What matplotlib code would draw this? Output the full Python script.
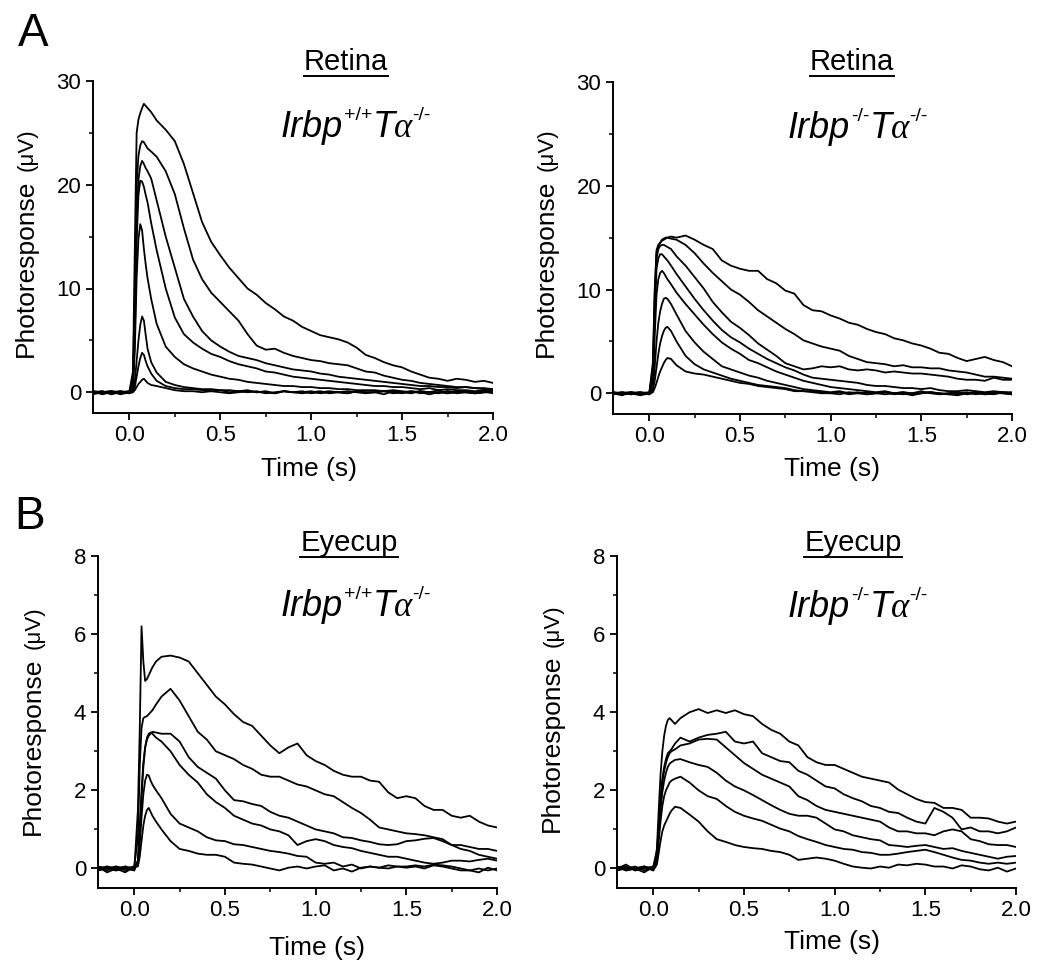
import matplotlib
matplotlib.use("Agg")
import matplotlib.pyplot as plt
from matplotlib.ticker import MultipleLocator, FormatStrFormatter
from matplotlib.lines import Line2D

plt.rcParams["font.family"] = ["Liberation Sans", "DejaVu Sans"]

W, H = 1050, 977

# sample times (s): baseline, rising phase, then every 50 ms
time_s = [-0.2, -0.15, -0.1, -0.05, 0.0, 0.02, 0.03, 0.04, 0.05, 0.06, 0.07, 0.08, 0.09, 0.1, 0.12, 0.15,
          0.2, 0.25, 0.3, 0.35, 0.4, 0.45, 0.5, 0.55, 0.6, 0.65,
          0.7, 0.75, 0.8, 0.85, 0.9, 0.95, 1.0, 1.05, 1.1, 1.15,
          1.2, 1.25, 1.3, 1.35, 1.4, 1.45, 1.5, 1.55, 1.6, 1.65,
          1.7, 1.75, 1.8, 1.85, 1.9, 1.95, 2.0]

# A left: retina, Irbp+/+ Ta-/- (uV)
retina_wt = [
    [0.1, -0.2, 0.0, -0.1, 0.1, 2.0, 14.0, 25.0, 26.3, 26.9, 27.4, 27.8, 27.6, 27.4, 27.0, 26.2,
     25.3, 24.2, 22.0, 19.2, 16.4, 14.5, 13.2, 12.0, 11.0, 10.0,
     9.4, 8.6, 8.0, 7.3, 6.9, 6.3, 5.9, 5.5, 5.3, 5.1,
     4.8, 4.3, 3.6, 3.3, 2.9, 2.6, 2.4, 2.0, 1.7, 1.4,
     1.3, 1.1, 1.3, 1.2, 1.0, 1.1, 0.9],
    [-0.1, 0.1, -0.2, 0.0, 0.0, 1.5, 10.0, 20.0, 22.8, 23.8, 24.2, 24.1, 23.8, 23.5, 23.2, 22.7,
     21.3, 19.1, 15.8, 12.8, 10.9, 9.6, 8.7, 7.8, 6.9, 5.6,
     4.5, 4.1, 4.2, 3.8, 3.5, 3.3, 3.1, 3.0, 2.8, 2.7,
     2.6, 2.3, 2.0, 1.9, 1.6, 1.4, 1.2, 1.1, 0.9, 0.8,
     0.7, 0.6, 0.5, 0.5, 0.4, 0.4, 0.3],
    [0.0, -0.1, 0.1, -0.2, 0.0, 1.0, 7.0, 16.5, 20.5, 21.8, 22.3, 22.0, 21.6, 21.3, 20.6, 18.5,
     15.0, 12.0, 9.0, 7.3, 5.9, 5.0, 4.4, 3.9, 3.5, 3.3,
     3.1, 2.8, 2.6, 2.4, 2.2, 2.1, 2.0, 1.8, 1.7, 1.5,
     1.4, 1.3, 1.2, 1.1, 1.0, 0.9, 0.8, 0.7, 0.6, 0.6,
     0.5, 0.5, 0.4, 0.5, 0.4, 0.3, 0.3],
    [-0.1, 0.0, 0.1, 0.0, -0.1, 0.8, 5.5, 14.5, 19.0, 20.4, 20.3, 19.8, 19.0, 18.3, 16.3, 13.7,
     10.0, 7.2, 5.6, 4.8, 4.2, 3.7, 3.4, 3.0, 2.7, 2.5,
     2.3, 2.0, 1.9, 1.7, 1.5, 1.4, 1.3, 1.2, 1.1, 1.0,
     0.9, 0.8, 0.7, 0.6, 0.6, 0.5, 0.5, 0.4, 0.3, 0.4,
     0.2, 0.3, 0.2, 0.2, 0.1, 0.2, 0.1],
    [0.1, -0.1, 0.0, 0.1, 0.0, 0.5, 4.0, 11.0, 14.8, 16.2, 15.6, 13.8, 12.3, 11.0, 9.0, 6.6,
     4.4, 3.4, 2.7, 2.3, 2.0, 1.7, 1.5, 1.3, 1.2, 1.0,
     0.9, 0.8, 0.7, 0.6, 0.6, 0.5, 0.5, 0.4, 0.4, 0.3,
     0.3, 0.2, 0.2, 0.2, 0.1, 0.2, 0.1, 0.0, 0.1, 0.0,
     -0.1, 0.1, 0.0, 0.0, -0.1, 0.0, 0.0],
    [0.0, 0.1, -0.1, 0.0, 0.1, 0.2, 1.0, 3.0, 5.0, 6.5, 7.3, 6.9, 5.5, 4.2, 2.9, 1.9,
     1.0, 0.7, 0.5, 0.4, 0.3, 0.3, 0.2, 0.2, 0.1, 0.2,
     0.0, 0.1, -0.1, 0.1, 0.0, 0.1, -0.1, 0.0, 0.1, 0.0,
     -0.1, 0.1, 0.0, 0.0, -0.2, 0.1, 0.0, -0.1, 0.1, 0.0,
     0.2, -0.1, 0.0, 0.1, -0.1, 0.0, 0.1],
    [-0.2, 0.0, 0.1, -0.1, 0.0, 0.1, 0.5, 1.5, 2.5, 3.3, 3.8, 3.6, 3.0, 2.5, 1.8, 1.1,
     0.6, 0.4, 0.3, 0.3, 0.2, 0.1, 0.2, 0.0, 0.1, 0.0,
     0.1, -0.1, 0.0, 0.1, 0.0, -0.1, 0.0, 0.1, -0.1, 0.0,
     0.1, 0.0, -0.1, 0.0, 0.1, 0.0, -0.1, 0.1, 0.0, -0.2,
     0.0, 0.1, -0.1, 0.0, 0.0, 0.1, -0.1],
    [0.1, 0.0, -0.1, 0.1, -0.1, 0.0, 0.2, 0.5, 0.8, 1.0, 1.2, 1.3, 1.1, 0.9, 0.7, 0.6,
     0.4, 0.2, 0.1, 0.1, 0.0, 0.1, 0.0, -0.1, 0.0, 0.1,
     0.0, 0.0, -0.1, 0.1, 0.0, 0.0, 0.1, -0.1, 0.0, 0.0,
     -0.1, 0.1, 0.0, 0.0, 0.1, -0.1, 0.0, 0.1, -0.1, 0.0,
     0.0, -0.1, 0.1, 0.0, -0.1, 0.0, 0.0],
]

# A right: retina, Irbp-/- Ta-/- (uV)
retina_ko = [
    [0.0, -0.2, 0.1, -0.1, 0.0, 3.0, 10.0, 13.8, 14.3, 14.5, 14.7, 14.8, 14.9, 15.0, 15.1, 15.0,
     15.2, 14.8, 14.3, 13.9, 12.8, 12.3, 12.0, 11.8, 11.8, 11.0,
     10.6, 9.9, 9.6, 8.5, 8.0, 7.9, 7.5, 7.2, 6.8, 6.6,
     6.2, 5.9, 5.7, 5.3, 5.1, 4.8, 4.6, 4.3, 3.9, 3.8,
     3.4, 3.1, 3.3, 3.5, 3.2, 3.0, 2.6],
    [0.1, 0.0, -0.1, 0.0, -0.1, 2.5, 9.5, 13.5, 14.2, 14.5, 14.8, 14.9, 15.0, 15.0, 14.9, 14.8,
     14.3, 13.5, 12.5, 11.6, 10.8, 10.0, 9.5, 8.8, 8.0, 7.4,
     6.8, 6.2, 5.7, 5.1, 4.8, 4.5, 4.3, 4.1, 3.6, 3.3,
     3.0, 2.9, 2.8, 2.6, 2.7, 2.5, 2.5, 2.4, 2.4, 2.2,
     2.1, 2.0, 1.8, 1.6, 1.6, 1.5, 1.4],
    [-0.1, 0.1, 0.0, -0.2, 0.0, 2.0, 8.5, 13.0, 13.9, 14.2, 14.3, 14.3, 14.2, 14.1, 13.9, 13.2,
     12.3, 11.2, 10.1, 8.8, 7.8, 6.9, 6.3, 5.6, 4.8, 4.2,
     3.6, 2.9, 2.6, 2.3, 2.4, 2.6, 2.5, 2.6, 2.3, 2.2,
     2.3, 2.2, 2.0, 2.1, 2.0, 1.9, 1.9, 1.8, 1.7, 1.6,
     1.4, 1.3, 1.3, 1.2, 1.5, 1.3, 1.3],
    [0.0, 0.0, 0.1, 0.0, -0.1, 1.8, 7.5, 12.0, 13.0, 13.4, 13.4, 13.2, 13.0, 12.8, 12.3, 11.5,
     10.3, 9.1, 8.0, 7.0, 6.1, 5.4, 4.9, 4.3, 3.8, 3.3,
     2.9, 2.5, 2.2, 1.8, 1.5, 1.4, 1.3, 1.2, 1.1, 1.0,
     0.8, 0.7, 0.7, 0.6, 0.5, 0.5, 0.4, 0.5, 0.3, 0.2,
     0.2, 0.3, 0.2, 0.1, 0.2, 0.1, 0.1],
    [0.1, -0.1, 0.0, 0.1, 0.0, 1.2, 5.5, 9.5, 11.0, 11.6, 11.8, 11.6, 11.3, 11.0, 10.5, 9.7,
     8.6, 7.6, 6.6, 5.7, 4.9, 4.3, 3.8, 3.2, 2.9, 2.5,
     2.1, 1.8, 1.5, 1.2, 1.0, 0.8, 0.6, 0.5, 0.4, 0.3,
     0.2, 0.1, 0.2, 0.0, 0.1, -0.1, 0.0, 0.1, 0.0, -0.1,
     0.0, 0.1, -0.1, 0.0, 0.1, 0.0, -0.1],
    [0.0, 0.1, -0.1, 0.0, 0.1, 0.5, 2.5, 5.0, 6.8, 7.9, 8.6, 9.1, 9.2, 9.1, 8.6, 7.6,
     6.0, 4.9, 4.0, 3.3, 2.6, 2.3, 2.0, 1.7, 1.5, 1.2,
     1.0, 0.8, 0.6, 0.4, 0.3, 0.2, 0.1, 0.2, 0.0, 0.1,
     -0.1, 0.0, 0.1, -0.1, 0.0, -0.2, 0.0, 0.1, 0.0, -0.1,
     -0.2, 0.0, 0.1, -0.1, 0.0, 0.1, -0.1],
    [-0.1, 0.0, 0.1, -0.1, 0.0, 0.3, 1.2, 2.5, 3.8, 4.8, 5.5, 6.0, 6.3, 6.4, 6.0, 5.0,
     3.6, 2.8, 2.3, 2.0, 1.7, 1.4, 1.2, 1.0, 0.8, 0.7,
     0.6, 0.5, 0.3, 0.2, 0.2, 0.1, 0.0, 0.1, -0.1, 0.0,
     0.1, 0.0, -0.1, 0.0, 0.1, 0.0, 0.2, 0.0, -0.1, 0.0,
     0.1, -0.1, 0.0, 0.0, -0.1, 0.1, 0.0],
    [0.1, -0.1, 0.0, 0.1, -0.1, 0.1, 0.5, 1.0, 1.6, 2.1, 2.5, 2.9, 3.2, 3.4, 3.3, 2.7,
     2.1, 1.9, 1.8, 1.6, 1.4, 1.2, 1.0, 0.9, 0.7, 0.6,
     0.5, 0.4, 0.2, 0.2, 0.1, 0.0, 0.0, -0.1, 0.1, 0.0,
     -0.1, 0.0, 0.1, 0.0, -0.1, 0.0, 0.0, 0.1, -0.1, 0.0,
     -0.1, 0.0, 0.1, -0.1, 0.0, 0.0, -0.1],
]

# B left: eyecup, Irbp+/+ Ta-/- (uV)
eyecup_wt = [
    [0.05, -0.1, 0.0, 0.05, -0.05, 1.5, 3.5, 6.2, 5.3, 4.8, 4.85, 4.95, 5.05, 5.15, 5.3, 5.42,
     5.45, 5.4, 5.3, 5.0, 4.7, 4.4, 4.2, 3.95, 3.75, 3.65,
     3.4, 3.15, 2.95, 3.1, 3.2, 2.9, 2.75, 2.65, 2.5, 2.4,
     2.35, 2.35, 2.25, 2.22, 1.95, 1.8, 1.85, 1.8, 1.6, 1.5,
     1.5, 1.35, 1.3, 1.35, 1.2, 1.1, 1.05],
    [0.0, 0.05, -0.05, 0.0, 0.05, 0.8, 2.6, 3.6, 3.85, 3.88, 3.9, 3.95, 4.0, 4.05, 4.2, 4.4,
     4.6, 4.3, 3.9, 3.5, 3.3, 3.0, 2.9, 2.8, 2.65, 2.55,
     2.4, 2.35, 2.35, 2.25, 2.15, 2.1, 2.0, 1.9, 1.85, 1.7,
     1.55, 1.42, 1.25, 1.05, 1.0, 0.95, 0.9, 0.88, 0.85, 0.8,
     0.75, 0.6, 0.6, 0.55, 0.5, 0.5, 0.45],
    [-0.05, 0.0, 0.05, -0.05, 0.0, 0.2, 1.0, 2.0, 2.7, 3.1, 3.3, 3.4, 3.45, 3.5, 3.48, 3.45,
     3.45, 3.25, 2.85, 2.6, 2.45, 2.3, 2.0, 1.75, 1.72, 1.65,
     1.6, 1.45, 1.35, 1.3, 1.2, 1.1, 1.0, 0.95, 0.9, 0.8,
     0.78, 0.72, 0.68, 0.62, 0.6, 0.62, 0.7, 0.72, 0.76, 0.78,
     0.7, 0.6, 0.5, 0.45, 0.35, 0.3, 0.25],
    [0.0, -0.05, 0.05, 0.0, -0.05, 0.2, 0.9, 1.8, 2.6, 3.1, 3.35, 3.45, 3.48, 3.45, 3.35, 3.25,
     3.0, 2.65, 2.4, 2.2, 1.9, 1.7, 1.55, 1.35, 1.25, 1.15,
     1.1, 1.0, 0.95, 0.85, 0.6, 0.7, 0.75, 0.7, 0.6, 0.55,
     0.52, 0.45, 0.4, 0.35, 0.3, 0.3, 0.25, 0.2, 0.15, 0.12,
     0.15, 0.2, 0.2, 0.18, 0.22, 0.25, 0.2],
    [0.05, 0.0, -0.05, 0.05, 0.0, 0.1, 0.6, 1.3, 1.9, 2.25, 2.4, 2.38, 2.25, 2.15, 2.0, 1.8,
     1.4, 1.15, 1.05, 0.95, 0.8, 0.72, 0.7, 0.62, 0.6, 0.55,
     0.5, 0.45, 0.42, 0.38, 0.32, 0.3, 0.15, 0.12, 0.15, 0.05,
     0.1, 0.0, 0.05, 0.02, 0.08, 0.05, 0.05, 0.08, 0.05, 0.1,
     0.08, 0.05, 0.0, -0.05, 0.0, -0.05, 0.0],
    [-0.05, 0.05, 0.0, -0.1, 0.05, 0.05, 0.3, 0.7, 1.1, 1.35, 1.5, 1.55, 1.45, 1.35, 1.2, 1.0,
     0.7, 0.5, 0.45, 0.38, 0.35, 0.35, 0.3, 0.15, 0.12, 0.1,
     0.05, 0.0, -0.05, 0.02, 0.05, 0.0, 0.05, 0.08, -0.05, 0.0,
     -0.08, 0.02, 0.05, 0.02, 0.0, 0.05, 0.02, 0.05, 0.0, 0.08,
     0.05, 0.0, -0.05, -0.05, -0.1, 0.02, -0.05],
]

# B right: eyecup, Irbp-/- Ta-/- (uV)
eyecup_ko = [
    [0.0, 0.1, -0.05, 0.05, 0.0, 0.5, 1.5, 2.4, 3.0, 3.4, 3.65, 3.8, 3.85, 3.8, 3.7, 3.85,
     4.0, 4.08, 3.98, 4.05, 3.98, 4.05, 3.95, 3.9, 3.7, 3.55,
     3.45, 3.25, 3.15, 2.85, 2.72, 2.65, 2.65, 2.55, 2.45, 2.35,
     2.3, 2.25, 2.2, 2.02, 1.9, 1.78, 1.7, 1.68, 1.55, 1.55,
     1.5, 1.3, 1.3, 1.28, 1.2, 1.15, 1.2],
    [-0.05, 0.05, 0.0, -0.1, 0.05, 0.4, 1.1, 1.8, 2.3, 2.6, 2.8, 2.95, 3.0, 3.05, 3.2, 3.35,
     3.25, 3.35, 3.42, 3.45, 3.5, 3.25, 3.2, 3.25, 2.95, 2.85,
     2.75, 2.72, 2.5, 2.4, 2.25, 2.1, 2.05, 1.9, 1.8, 1.72,
     1.6, 1.55, 1.45, 1.42, 1.3, 1.2, 1.15, 1.55, 1.45, 1.3,
     1.0, 1.05, 0.95, 0.95, 0.9, 0.95, 1.05],
    [0.05, -0.05, 0.0, 0.05, -0.05, 0.4, 1.0, 1.7, 2.2, 2.5, 2.7, 2.85, 2.95, 3.0, 3.05, 3.15,
     3.2, 3.3, 3.32, 3.3, 3.1, 2.9, 2.7, 2.55, 2.4, 2.3,
     2.2, 2.1, 1.85, 1.75, 1.6, 1.5, 1.45, 1.4, 1.35, 1.3,
     1.25, 1.2, 1.05, 0.95, 0.95, 0.9, 0.9, 0.85, 0.95, 1.0,
     0.95, 0.75, 0.7, 0.62, 0.6, 0.6, 0.55],
    [0.0, 0.05, -0.05, 0.0, 0.05, 0.3, 0.9, 1.5, 1.95, 2.25, 2.45, 2.6, 2.68, 2.72, 2.78, 2.8,
     2.72, 2.65, 2.6, 2.45, 2.25, 2.1, 2.0, 1.88, 1.75, 1.62,
     1.5, 1.4, 1.35, 1.35, 1.3, 1.15, 1.0, 0.95, 0.85, 0.8,
     0.75, 0.72, 0.6, 0.58, 0.55, 0.58, 0.6, 0.55, 0.5, 0.52,
     0.45, 0.4, 0.35, 0.3, 0.25, 0.3, 0.32],
    [-0.05, 0.0, 0.05, -0.05, 0.0, 0.2, 0.7, 1.2, 1.6, 1.85, 2.0, 2.1, 2.2, 2.25, 2.3, 2.35,
     2.2, 2.0, 1.85, 1.78, 1.6, 1.45, 1.35, 1.28, 1.22, 1.12,
     1.02, 0.95, 0.83, 0.75, 0.68, 0.6, 0.55, 0.5, 0.48, 0.42,
     0.4, 0.35, 0.35, 0.38, 0.42, 0.45, 0.48, 0.42, 0.35, 0.28,
     0.22, 0.2, 0.15, 0.12, 0.15, 0.12, 0.15],
    [0.05, -0.05, 0.0, 0.05, -0.05, 0.1, 0.4, 0.7, 0.95, 1.1, 1.2, 1.3, 1.4, 1.48, 1.58, 1.55,
     1.38, 1.2, 0.95, 0.75, 0.68, 0.6, 0.55, 0.52, 0.5, 0.45,
     0.42, 0.35, 0.22, 0.25, 0.28, 0.25, 0.2, 0.12, 0.05, 0.02,
     0.0, 0.05, 0.02, 0.1, 0.08, 0.12, 0.1, 0.05, 0.05, 0.0,
     0.08, 0.05, -0.02, -0.05, 0.02, -0.08, 0.0],
]

# genotype label pieces: (italic word, greek letter, superscript)
geno_wt = [("Irbp", "", "+/+"), ("T", "\u03b1", "-/-")]
geno_ko = [("Irbp", "", "-/-"), ("T", "\u03b1", "-/-")]


def fx(x):
    return x / W


def fy(y):
    return 1 - y / H


def draw_panel(fig, box, traces, ylim, ymajor, yminor):
    left, top, right, bottom = box
    ax = fig.add_axes([fx(left), fy(bottom), fx(right - left), (bottom - top) / H])
    for trace in traces:
        ax.plot(time_s, trace, color="black", lw=1.3)
    ax.set_xlim(-0.2, 2.0)
    ax.set_ylim(*ylim)
    ax.xaxis.set_major_locator(MultipleLocator(0.5))
    ax.xaxis.set_minor_locator(MultipleLocator(0.25))
    ax.xaxis.set_major_formatter(FormatStrFormatter("%.1f"))
    ax.yaxis.set_major_locator(MultipleLocator(ymajor))
    ax.yaxis.set_minor_locator(MultipleLocator(yminor))
    for side in ["top", "right"]:
        ax.spines[side].set_visible(False)
    for side in ["left", "bottom"]:
        ax.spines[side].set_linewidth(1.4)
    ax.tick_params(which="major", direction="out", length=5, width=1.3, labelsize=16, pad=3.5)
    ax.tick_params(which="minor", direction="out", length=3, width=1.1)
    return ax


def underlined_title(fig, text, cx, baseline, line_y):
    t = fig.text(fx(cx), fy(baseline), text, fontsize=21, ha="center", va="baseline")
    fig.canvas.draw()
    bb = t.get_window_extent(fig.canvas.get_renderer())
    fig.add_artist(Line2D([bb.x0 / W, bb.x1 / W], [fy(line_y)] * 2,
                          transform=fig.transFigure, color="black", lw=1.4))


def genotype(fig, x, baseline, pieces):
    renderer = fig.canvas.get_renderer()
    for word, greek, sup in pieces:
        t = fig.text(fx(x), fy(baseline), word, fontsize=26, style="italic", ha="left", va="baseline")
        x += t.get_window_extent(renderer).width
        if greek:
            g = fig.text(fx(x - 1), fy(baseline), greek, fontsize=25, style="italic",
                         family="Liberation Serif", ha="left", va="baseline")
            x += g.get_window_extent(renderer).width - 2
        s = fig.text(fx(x + 1), fy(baseline - 17), sup, fontsize=14, ha="left", va="baseline")
        x += s.get_window_extent(renderer).width + 1


def y_label(fig, cx, cy_word, cy_unit):
    fig.text(fx(cx), fy(cy_word), "Photoresponse", fontsize=19, rotation=90, ha="center", va="center")
    fig.text(fx(cx + 1), fy(cy_unit), "(\u03bcV)", fontsize=16, rotation=90, ha="center", va="center")


fig = plt.figure(figsize=(W / 100, H / 100), dpi=100)

draw_panel(fig, (93, 81, 493, 413), retina_wt, (-2, 30), 10, 5)
draw_panel(fig, (613, 82, 1012, 414), retina_ko, (-2, 30), 10, 5)
draw_panel(fig, (98, 556, 497, 888), eyecup_wt, (-0.5, 8), 2, 1)
draw_panel(fig, (617, 556, 1016, 888), eyecup_ko, (-0.5, 8), 2, 1)

fig.text(fx(33), fy(34), "A", fontsize=33, ha="center", va="center")
fig.text(fx(30), fy(517), "B", fontsize=33, ha="center", va="center")

underlined_title(fig, "Retina", 346, 70, 76)
underlined_title(fig, "Retina", 852, 70, 76)
underlined_title(fig, "Eyecup", 349, 551, 557)
underlined_title(fig, "Eyecup", 853, 551, 557)

genotype(fig, 281, 137, geno_wt)
genotype(fig, 788, 138, geno_ko)
genotype(fig, 281, 616, geno_wt)
genotype(fig, 788, 617, geno_ko)

fig.text(fx(309), fy(469), "Time (s)", fontsize=19, ha="center", va="center")
fig.text(fx(832), fy(469), "Time (s)", fontsize=19, ha="center", va="center")
fig.text(fx(317), fy(948), "Time (s)", fontsize=19, ha="center", va="center")
fig.text(fx(832), fy(942), "Time (s)", fontsize=19, ha="center", va="center")

y_label(fig, 26, 268, 150)
y_label(fig, 546, 268, 150)
y_label(fig, 33, 746, 628)
y_label(fig, 552, 743, 626)

fig.savefig("out.png", dpi=100)
